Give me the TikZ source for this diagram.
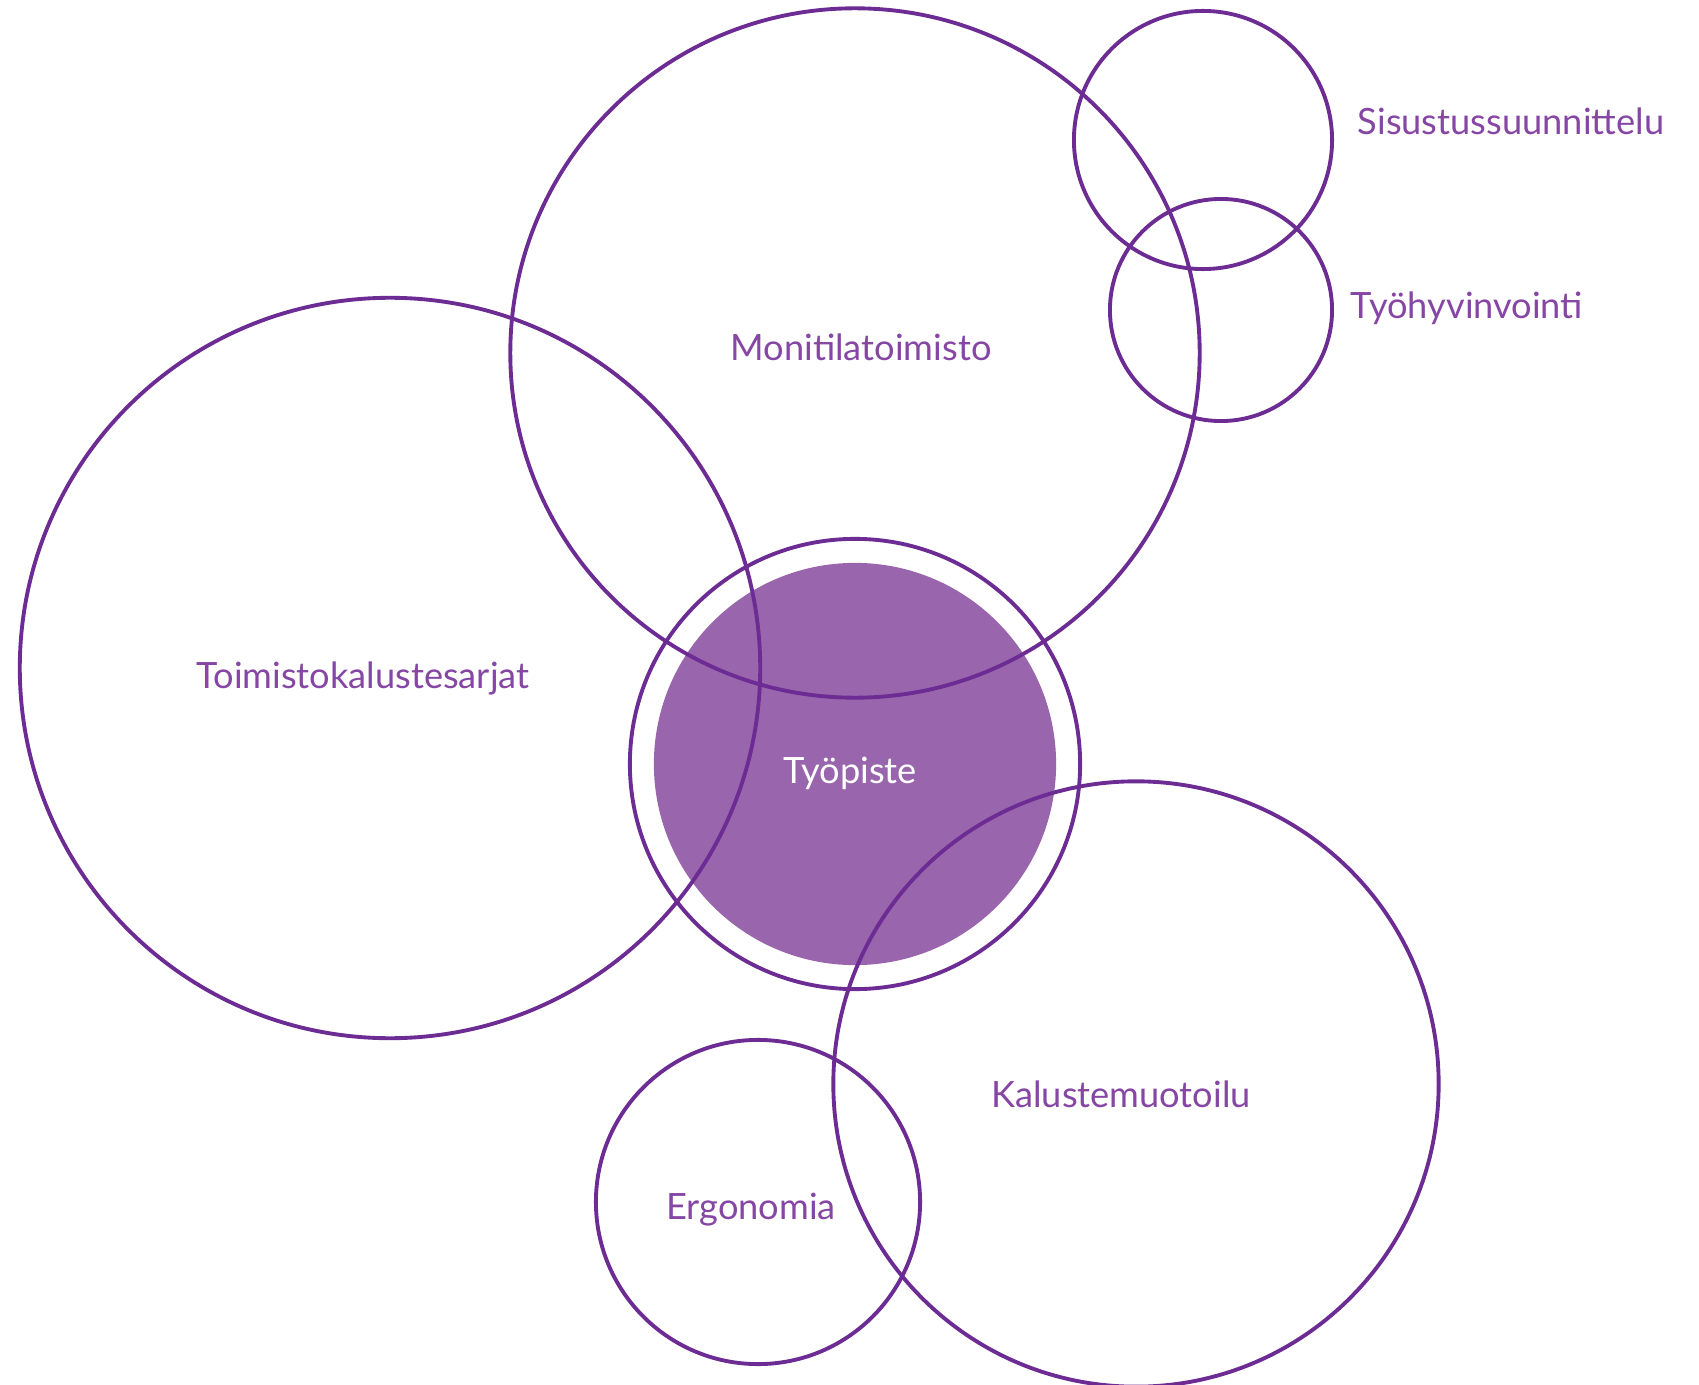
\documentclass[tikz,border=0pt]{standalone}
\usepackage{fontspec}
\setmainfont{Lato}
\usepackage{tikz}

\definecolor{ringc}{HTML}{6C2C93}
\definecolor{fillc}{HTML}{9966AE}
\definecolor{textc}{HTML}{8646A4}

\begin{document}
\begin{tikzpicture}
[x=0.01cm,y=-0.01cm]
\tikzset{ring/.style={circle,draw=ringc,line width=1.1pt,inner sep=0pt}}
\tikzset{lbl/.style={text=textc,inner sep=0pt,font=\fontsize{10.3}{12}\selectfont}}
\useasboundingbox (0,0) rectangle (1699,1385);
\node [circle,fill=fillc,minimum size=4.02cm,inner sep=0pt] (disc) at (855,764) {};
\node [ring,minimum size=6.89cm] (moni) at (855,353) {};
\node [ring,minimum size=2.58cm] (sisu) at (1203,140) {};
\node [ring,minimum size=2.22cm] (hyv) at (1221,310) {};
\node [ring,minimum size=7.40cm] (kal) at (390,668) {};
\node [ring,minimum size=4.50cm] (piste) at (855,764) {};
\node [ring,minimum size=6.05cm] (muot) at (1136,1084) {};
\node [ring,minimum size=3.24cm] (ergo) at (758,1202) {};

\node [lbl] (tsisu) at (1511,121) {Sisustussuunnittelu};
\node [lbl] (thyv) at (1467,308) {Työhyvinvointi};
\node [lbl] (tmoni) at (861,347) {Monitilatoimisto};
\node [lbl] (tkal) at (363,678) {Toimistokalustesarjat};
\node [lbl,text=white] (tpiste) at (850,773) {Työpiste};
\node [lbl] (tmuot) at (1121,1094) {Kalustemuotoilu};
\node [lbl] (tergo) at (751,1210) {Ergonomia};
\end{tikzpicture}
\end{document}
